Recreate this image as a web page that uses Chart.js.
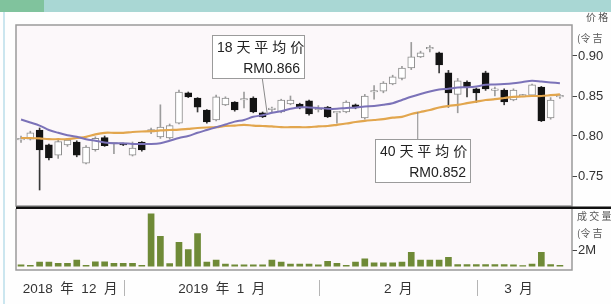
<!DOCTYPE html>
<html>
<head>
<meta charset="utf-8">
<script src="https://cdn.jsdelivr.net/npm/chart.js@4.4.1/dist/chart.umd.min.js"></script>
<style>
    html, body { margin: 0; padding: 0; background: #fefefe; }
    #wrap { position: relative; width: 611px; height: 304px; overflow: hidden; background: #fefefe; }
    #head { position: absolute; left: 0; top: 0; width: 611px; height: 12px; background: #a9d7d4; }
    #headTab { position: absolute; left: 0; top: 0; width: 44px; height: 12px; background: #80c39d; }
    #edge { position: absolute; left: 3px; top: 12px; width: 2px; height: 292px; background: #cbe6ef; }
    #priceBox { position: absolute; left: 0; top: 0; width: 611px; height: 216px; }
    #volBox { position: absolute; left: 0; top: 200px; width: 611px; height: 104px; }
</style>
</head>
<body>
<div id="wrap">
    <div id="head"></div>
    <div id="headTab"></div>
    <div id="edge"></div>
    <div id="priceBox"><canvas id="price-chart"></canvas></div>
    <div id="volBox"><canvas id="volume-chart"></canvas></div>
</div>
<script>
// trading days shown (Dec 2018 - Mar 2019)
var dates = [
    '12-14', '12-17', '12-18', '12-19', '12-20', '12-21', '12-24', '12-26', '12-27', '12-28', '12-31',
    '01-02', '01-03', '01-04', '01-07', '01-08', '01-09', '01-10', '01-11', '01-14', '01-15', '01-16',
    '01-17', '01-18', '01-22', '01-23', '01-24', '01-25', '01-28', '01-29', '01-30', '01-31',
    '02-01', '02-04', '02-07', '02-08', '02-11', '02-12', '02-13', '02-14', '02-15', '02-18', '02-19',
    '02-20', '02-21', '02-22', '02-25', '02-26', '02-27',
    '03-01', '03-04', '03-05', '03-06', '03-07', '03-08', '03-11', '03-12', '03-13', '03-14'
];

var openPx = [0.795, 0.796, 0.8075, 0.789, 0.776, 0.789, 0.7925, 0.766, 0.783, 0.798,
    0.790, 0.791, 0.776, 0.7925, 0.805, 0.799, 0.7975, 0.816, 0.854, 0.8475,
    0.8325, 0.820, 0.839, 0.8425, 0.845, 0.8475, 0.829, 0.833, 0.830, 0.840,
    0.840, 0.844, 0.833, 0.836, 0.829, 0.830, 0.839, 0.8225, 0.855, 0.856,
    0.865, 0.872, 0.885, 0.899, 0.909, 0.904, 0.879, 0.852, 0.8675, 0.859,
    0.879, 0.857, 0.8575, 0.845, 0.850, 0.851, 0.861, 0.8225, 0.849];
var highPx = [0.800, 0.806, 0.810, 0.790, 0.795, 0.797, 0.794, 0.788, 0.799, 0.800,
    0.791, 0.791, 0.7925, 0.793, 0.810, 0.839, 0.815, 0.8575, 0.855, 0.848,
    0.833, 0.851, 0.849, 0.843, 0.855, 0.849, 0.830, 0.836, 0.846, 0.850,
    0.841, 0.845, 0.838, 0.837, 0.830, 0.844, 0.840, 0.852, 0.863, 0.868,
    0.876, 0.887, 0.917, 0.906, 0.913, 0.905, 0.882, 0.872, 0.869, 0.860,
    0.881, 0.861, 0.859, 0.859, 0.852, 0.865, 0.862, 0.848, 0.852];
var lowPx = [0.792, 0.795, 0.7325, 0.770, 0.772, 0.787, 0.774, 0.765, 0.781, 0.787,
    0.778, 0.788, 0.775, 0.781, 0.803, 0.797, 0.796, 0.815, 0.848, 0.830,
    0.816, 0.819, 0.838, 0.831, 0.835, 0.829, 0.823, 0.829, 0.829, 0.839,
    0.834, 0.826, 0.830, 0.823, 0.816, 0.829, 0.834, 0.821, 0.846, 0.854,
    0.864, 0.870, 0.883, 0.898, 0.905, 0.879, 0.836, 0.829, 0.849, 0.842,
    0.857, 0.850, 0.839, 0.844, 0.849, 0.850, 0.818, 0.821, 0.847];
var closePx = [0.797, 0.804, 0.7825, 0.7725, 0.793, 0.795, 0.776, 0.786, 0.797, 0.788,
    0.790, 0.789, 0.785, 0.7825, 0.808, 0.811, 0.813, 0.855, 0.849, 0.836,
    0.8175, 0.849, 0.8475, 0.8325, 0.846, 0.830, 0.824, 0.834, 0.845, 0.845,
    0.835, 0.8275, 0.834, 0.824, 0.829, 0.8425, 0.835, 0.850, 0.856, 0.866,
    0.874, 0.885, 0.899, 0.904, 0.910, 0.889, 0.854, 0.869, 0.861, 0.854,
    0.859, 0.858, 0.8425, 0.8575, 0.851, 0.864, 0.819, 0.845, 0.849];

// 18 day and 40 day averages
var ma18 = [0.8206, 0.8169, 0.813, 0.8075, 0.804, 0.801, 0.799, 0.796, 0.794, 0.792,
    0.791, 0.791, 0.790, 0.790, 0.790, 0.791, 0.794, 0.7975, 0.800, 0.804,
    0.8075, 0.811, 0.8144, 0.818, 0.820, 0.824, 0.826, 0.829, 0.831, 0.834,
    0.836, 0.8356, 0.835, 0.834, 0.834, 0.835, 0.8356, 0.837, 0.8375, 0.839,
    0.841, 0.845, 0.849, 0.8525, 0.8556, 0.858, 0.859, 0.8606, 0.861, 0.862,
    0.864, 0.8644, 0.865, 0.866, 0.8675, 0.869, 0.868, 0.867, 0.866];
var ma40 = [0.7975, 0.7975, 0.797, 0.796, 0.796, 0.796, 0.7975, 0.799, 0.802, 0.804,
    0.804, 0.804, 0.805, 0.8056, 0.806, 0.807, 0.8075, 0.808, 0.809, 0.810,
    0.8106, 0.811, 0.8125, 0.813, 0.814, 0.813, 0.8125, 0.812, 0.811, 0.811,
    0.811, 0.811, 0.812, 0.8125, 0.814, 0.8156, 0.8175, 0.819, 0.820, 0.821,
    0.823, 0.824, 0.8275, 0.830, 0.8325, 0.8356, 0.8375, 0.839, 0.841, 0.843,
    0.845, 0.846, 0.8475, 0.849, 0.8494, 0.850, 0.850, 0.851, 0.852];

// volume, millions of ringgit
var volume = [0.15, 0.1, 0.5, 0.5, 0.35, 0.35, 0.75, 0.1, 0.55, 0.55,
    0.35, 0.35, 0.35, 0.1, 6.6, 3.75, 0.3, 3.0, 2.1, 4.1,
    0.5, 0.75, 0.25, 0.15, 0.15, 0.15, 0.15, 0.75, 0.5, 0.25,
    0.25, 0.25, 0.15, 0.6, 0.35, 0.1, 0.5, 0.9, 0.4, 0.4,
    0.4, 0.5, 1.75, 0.75, 0.75, 0.75, 1.1, 0.2, 0.2, 0.2,
    0.2, 0.2, 0.2, 0.15, 0.05, 0.25, 1.75, 0.2, 0.1];

var priceTicks = [0.75, 0.80, 0.85, 0.90];
var volumeTicks = [2];
var monthNames = ['2018  年  12  月', '2019  年  1  月', '2  月', '3  月'];
var monthStart = [11, 32, 49];

var CJK = '"Liberation Sans", "Noto Sans CJK SC", sans-serif';
var last = dates.length - 1;

function pts(arr) {
    return arr.map(function (v, i) { return { x: i, y: v }; });
}

function isUp(i) {
    return closePx[i] >= openPx[i];
}

function noteBox(ctx, x, y, w, h, line1, line2, lx, ly, fromTop) {
    // leader line first, box over it
    ctx.strokeStyle = '#8a8a8a';
    ctx.lineWidth = 1;
    ctx.beginPath();
    if (fromTop) {
        ctx.moveTo(lx, y);
    } else {
        ctx.moveTo(lx - 5, y + h);
    }
    ctx.lineTo(lx, ly);
    ctx.stroke();
    ctx.fillStyle = '#ffffff';
    ctx.fillRect(x, y, w, h);
    ctx.strokeStyle = '#9b9b9b';
    ctx.strokeRect(x + 0.5, y + 0.5, w, h);
    ctx.fillStyle = '#222';
    ctx.font = '14px ' + CJK;
    ctx.textAlign = 'left';
    ctx.fillText(line1, x + 5, y + 17);
    ctx.textAlign = 'right';
    ctx.fillText(line2, x + w - 4, y + 38);
}

var priceDeco = {
    id: 'priceDeco',
    beforeDraw: function (chart) {
        var a = chart.chartArea, ctx = chart.ctx;
        ctx.save();
        ctx.fillStyle = '#fcf8fa';
        ctx.fillRect(a.left, a.top, a.right - a.left, a.bottom - a.top);
        ctx.restore();
    },
    afterDraw: function (chart) {
        var a = chart.chartArea, ctx = chart.ctx, xs = chart.scales.x, ys = chart.scales.y;
        ctx.save();
        ctx.strokeStyle = '#9a9a9a';
        ctx.lineWidth = 1.5;
        ctx.strokeRect(a.left, a.top, a.right - a.left, a.bottom - a.top);

        ctx.fillStyle = '#555';
        ctx.font = '10px "Noto Sans CJK SC"';
        ctx.textAlign = 'left';
        ctx.fillText('价 格', 586, 21);
        ctx.fillText('(令 吉', 577, 42);

        var i1 = 26, i2 = 43;
        noteBox(ctx, 212, 35, 92, 43, '18 天 平 均 价', 'RM' + ma18[last].toFixed(3),
            xs.getPixelForValue(i1 + 0.5), ys.getPixelForValue((ma18[i1] + ma18[i1 + 1]) / 2), false);
        noteBox(ctx, 375, 139, 95, 43, '40 天 平 均 价', 'RM' + ma40[last].toFixed(3),
            xs.getPixelForValue(i2 - 0.3), ys.getPixelForValue(ma40[i2]), true);
        ctx.restore();
    }
};

var volumeDeco = {
    id: 'volumeDeco',
    beforeDraw: function (chart) {
        var a = chart.chartArea, ctx = chart.ctx;
        ctx.save();
        ctx.fillStyle = '#fcf8fa';
        ctx.fillRect(a.left, a.top, a.right - a.left, a.bottom - a.top);
        ctx.restore();
    },
    afterDraw: function (chart) {
        var a = chart.chartArea, ctx = chart.ctx, xs = chart.scales.x;
        ctx.save();
        ctx.strokeStyle = '#9a9a9a';
        ctx.lineWidth = 1.5;
        ctx.beginPath();
        ctx.moveTo(a.left, a.top);
        ctx.lineTo(a.left, a.bottom);
        ctx.lineTo(a.right, a.bottom);
        ctx.lineTo(a.right, a.top);
        ctx.stroke();
        ctx.strokeStyle = '#111';
        ctx.lineWidth = 2.5;
        ctx.beginPath();
        ctx.moveTo(a.left, a.top - 1);
        ctx.lineTo(chart.width, a.top - 1);
        ctx.stroke();

        ctx.fillStyle = '#555';
        ctx.font = '10px "Noto Sans CJK SC"';
        ctx.textAlign = 'left';
        ctx.fillText('成 交 量', 577, 20);
        ctx.fillText('(令 吉', 577, 37);

        // month separators and names
        var edges = [a.left];
        monthStart.forEach(function (m) { edges.push(xs.getPixelForValue(m) + 1); });
        edges.push(xs.getPixelForValue(last));
        ctx.strokeStyle = '#b5b5b5';
        ctx.lineWidth = 1;
        for (var k = 1; k < edges.length - 1; k++) {
            ctx.beginPath();
            ctx.moveTo(Math.round(edges[k]) + 0.5, 80);
            ctx.lineTo(Math.round(edges[k]) + 0.5, 96);
            ctx.stroke();
        }
        ctx.fillStyle = '#333';
        ctx.font = '13.5px ' + CJK;
        ctx.textAlign = 'center';
        for (var m = 0; m < monthNames.length; m++) {
            ctx.fillText(monthNames[m], (edges[m] + edges[m + 1]) / 2, 93);
        }
        ctx.restore();
    }
};

function xScale() {
    return { type: 'linear', min: -0.54, max: 59.3, offset: false, display: false };
}

function GetPriceChart() {
    var ctx = document.getElementById('price-chart');
    if (ctx == null) return;
    var bodies = [], wicks = [], fill = [], edge = [], wickColor = [];
    dates.forEach(function (d, i) {
        bodies.push({ x: i, y: [openPx[i], closePx[i]] });
        wicks.push({ x: i, y: [lowPx[i], highPx[i]] });
        fill.push(isUp(i) ? '#ffffff' : '#141414');
        edge.push(isUp(i) ? '#8c8c8c' : '#141414');
        wickColor.push(isUp(i) ? '#9c9c9c' : '#3a3a3a');
    });
    new Chart(ctx.getContext('2d'), {
        type: 'bar',
        data: {
            datasets: [
                { type: 'line', label: '18 天平均价', data: pts(ma18), borderColor: '#7b72b8', borderWidth: 2, pointRadius: 0, tension: 0.3, order: 0 },
                { type: 'line', label: '40 天平均价', data: pts(ma40), borderColor: '#e2a64e', borderWidth: 2.2, pointRadius: 0, tension: 0.3, order: 0 },
                { label: 'body', data: bodies, backgroundColor: fill, borderColor: edge, borderWidth: 1, borderSkipped: false, barThickness: 7, minBarLength: 1.5, grouped: false, order: 1 },
                { label: 'wick', data: wicks, backgroundColor: wickColor, borderWidth: 0, barThickness: 1, grouped: false, order: 2 }
            ]
        },
        options: {
            animation: false,
            responsive: true,
            maintainAspectRatio: false,
            layout: { padding: { left: 16, top: 25, bottom: 10, right: 0 } },
            plugins: { legend: { display: false }, tooltip: { enabled: false } },
            scales: {
                x: xScale(),
                y: {
                    position: 'right',
                    min: 0.7125,
                    max: 0.93875,
                    afterFit: function (s) { s.width = 39; },
                    afterBuildTicks: function (s) { s.ticks = priceTicks.map(function (v) { return { value: v }; }); },
                    grid: { drawOnChartArea: false, drawTicks: true, tickLength: 5, color: '#444', lineWidth: 1 },
                    border: { display: false },
                    ticks: { color: '#333', padding: 1, font: { size: 13, family: '"Liberation Sans", Arial' }, callback: function (v) { return v.toFixed(2); } }
                }
            }
        },
        plugins: [priceDeco]
    });
}

function GetVolumeChart() {
    var ctx = document.getElementById('volume-chart');
    if (ctx == null) return;
    new Chart(ctx.getContext('2d'), {
        type: 'bar',
        data: {
            datasets: [
                { label: '成交量', data: pts(volume), backgroundColor: '#6f8a37', barThickness: 6 }
            ]
        },
        options: {
            animation: false,
            responsive: true,
            maintainAspectRatio: false,
            layout: { padding: { left: 16, top: 8, bottom: 34, right: 0 } },
            plugins: { legend: { display: false }, tooltip: { enabled: false } },
            scales: {
                x: xScale(),
                y: {
                    position: 'right',
                    min: -0.5,
                    max: 7.25,
                    afterFit: function (s) { s.width = 39; },
                    afterBuildTicks: function (s) { s.ticks = volumeTicks.map(function (v) { return { value: v }; }); },
                    grid: { drawOnChartArea: false, drawTicks: true, tickLength: 5, color: '#444', lineWidth: 1 },
                    border: { display: false },
                    ticks: { color: '#333', padding: 1, font: { size: 13, family: '"Liberation Sans", Arial' }, callback: function (v) { return v + 'M'; } }
                }
            }
        },
        plugins: [volumeDeco]
    });
}

GetPriceChart();
GetVolumeChart();
</script>
</body>
</html>
